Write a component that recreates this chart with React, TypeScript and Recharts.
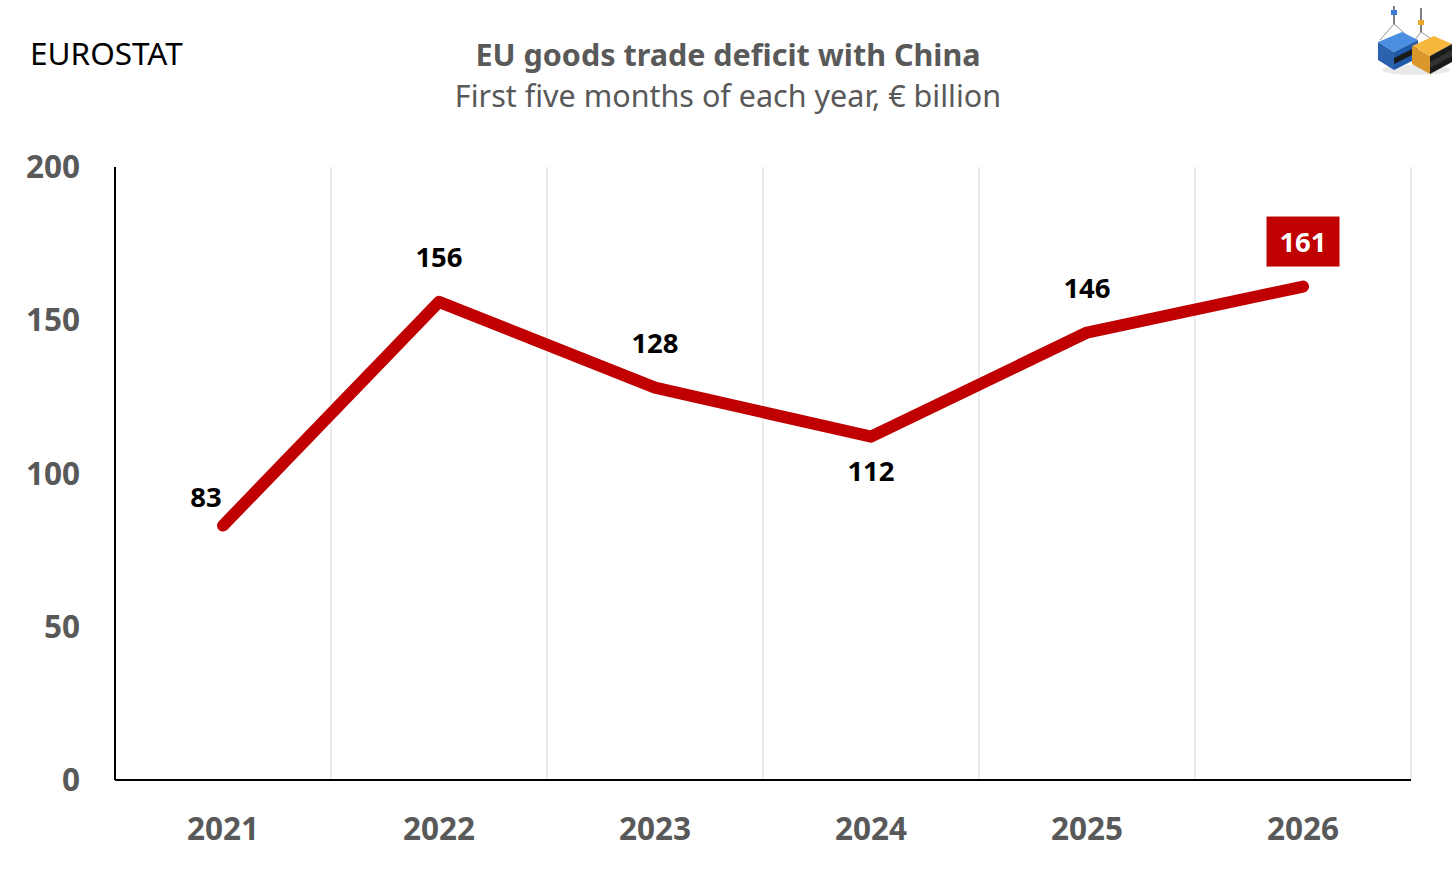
import React from "react";
import { LineChart, Line, XAxis, YAxis, ReferenceLine, LabelList } from "recharts";

const years = [2021, 2022, 2023, 2024, 2025, 2026];
const deficit = [83, 156, 128, 112, 146, 161];
const yTicks = [0, 50, 100, 150, 200];
const gridBoundaries = [2021.5, 2022.5, 2023.5, 2024.5, 2025.5, 2026.5];

const data = years.map((year, i) => ({ year, value: deficit[i] }));

const FONT = "'Noto Sans', 'Open Sans', sans-serif";
const RED = "#C00000";
const GREY = "#595959";

const DataLabel = (props: any) => {
  const { x, y, value, index } = props;
  const last = deficit.length - 1;
  if (index === last) {
    const w = 73;
    const h = 50;
    const cy = y - 45;
    return (
      <g>
        <rect x={x - w / 2} y={cy - h / 2} width={w} height={h} fill={RED} />
        <text x={x} y={cy} textAnchor="middle" dominantBaseline="central" fill="#fff"
          fontFamily={FONT} fontWeight={700} fontSize={27.5}>{value}</text>
      </g>
    );
  }
  const prev = index > 0 ? deficit[index - 1] : Infinity;
  const next = index < last ? deficit[index + 1] : Infinity;
  let dx = 0;
  let dy = -45;
  if (index === 0) {
    dx = -17;
    dy = -29;
  } else if (value < prev && value < next) {
    dy = 34;
  }
  return (
    <text x={x + dx} y={y + dy} textAnchor="middle" dominantBaseline="central" fill="#000"
      fontFamily={FONT} fontWeight={700} fontSize={27.5}>{value}</text>
  );
};

const Logo = () => (
  <svg width={82} height={76} viewBox="0 0 82 76" style={{ position: "absolute", left: 1374, top: 2 }}>
    <ellipse cx={42} cy={68} rx={34} ry={5} fill="#e8e8e8" />
    <line x1={20} y1={4} x2={20} y2={22} stroke="#555" strokeWidth={1.5} />
    <line x1={20} y1={22} x2={6} y2={38} stroke="#777" strokeWidth={0.8} />
    <line x1={20} y1={22} x2={36} y2={36} stroke="#777" strokeWidth={0.8} />
    <rect x={17} y={8} width={6} height={5} fill="#3a7bd5" />
    <line x1={47} y1={6} x2={47} y2={30} stroke="#555" strokeWidth={1.5} />
    <line x1={47} y1={30} x2={38} y2={42} stroke="#777" strokeWidth={0.8} />
    <line x1={47} y1={30} x2={62} y2={40} stroke="#777" strokeWidth={0.8} />
    <rect x={44} y={18} width={6} height={5} fill="#e8a82a" />
    <polygon points="4,40 28,30 44,38 20,50" fill="#4a8fe0" />
    <polygon points="4,40 20,50 20,68 4,58" fill="#2a62b0" />
    <polygon points="20,50 44,38 44,56 20,68" fill="#1f5aa8" />
    <polygon points="20,56 44,44 44,50 20,62" fill="#1a1a1a" />
    <polygon points="38,44 60,34 78,42 56,54" fill="#f5b83d" />
    <polygon points="38,44 56,54 56,72 38,62" fill="#d9962a" />
    <polygon points="56,54 78,42 78,60 56,72" fill="#1a1a1a" />
    <polygon points="56,60 78,48 78,54 56,66" fill="#333" />
  </svg>
);

export default function App() {
  return (
    <div style={{ position: "absolute", left: 0, top: 0, width: 1456, height: 874, background: "#fff" }}>
      <div style={{ position: "absolute", left: 0, top: 0 }}>
        <LineChart width={1456} height={874} data={data}
          margin={{ top: 167, right: 45, bottom: 0, left: 0 }}>
          {gridBoundaries.map((b) => (
            <ReferenceLine key={b} x={b} stroke="#ebebeb" strokeWidth={2} ifOverflow="extendDomain" />
          ))}
          <XAxis dataKey="year" type="number" domain={[2020.5, 2026.5]} ticks={years}
            allowDataOverflow height={94} tickLine={false} tickSize={0} tickMargin={38}
            axisLine={{ stroke: "#000", strokeWidth: 2 }}
            tick={{ fill: GREY, fontSize: 31.5, fontWeight: 700, fontFamily: FONT }}
            interval={0} />
          <YAxis type="number" domain={[0, 200]} ticks={yTicks} width={115}
            tickLine={false} tickSize={0} tickMargin={35}
            axisLine={{ stroke: "#000", strokeWidth: 2 }}
            tick={{ fill: GREY, fontSize: 31.5, fontWeight: 700, fontFamily: FONT }}
            interval={0} />
          <Line type="linear" dataKey="value" stroke={RED} strokeWidth={12}
            strokeLinecap="round" strokeLinejoin="round" dot={false} activeDot={false}
            isAnimationActive={false}>
            <LabelList dataKey="value" content={<DataLabel />} />
          </Line>
        </LineChart>
      </div>
      <svg width={1456} height={120} style={{ position: "absolute", left: 0, top: 0, pointerEvents: "none" }}>
        <text x={30} y={65} fontFamily={FONT} fontSize={31.5} fill="#000">EUROSTAT</text>
        <text x={728} y={66} textAnchor="middle" fontFamily={FONT} fontSize={30.5} fontWeight={700} fill={GREY}>
          EU goods trade deficit with China
        </text>
        <text x={728} y={107} textAnchor="middle" fontFamily={FONT} fontSize={30.5} fill={GREY}>
          First five months of each year, € billion
        </text>
      </svg>
      <Logo />
    </div>
  );
}
